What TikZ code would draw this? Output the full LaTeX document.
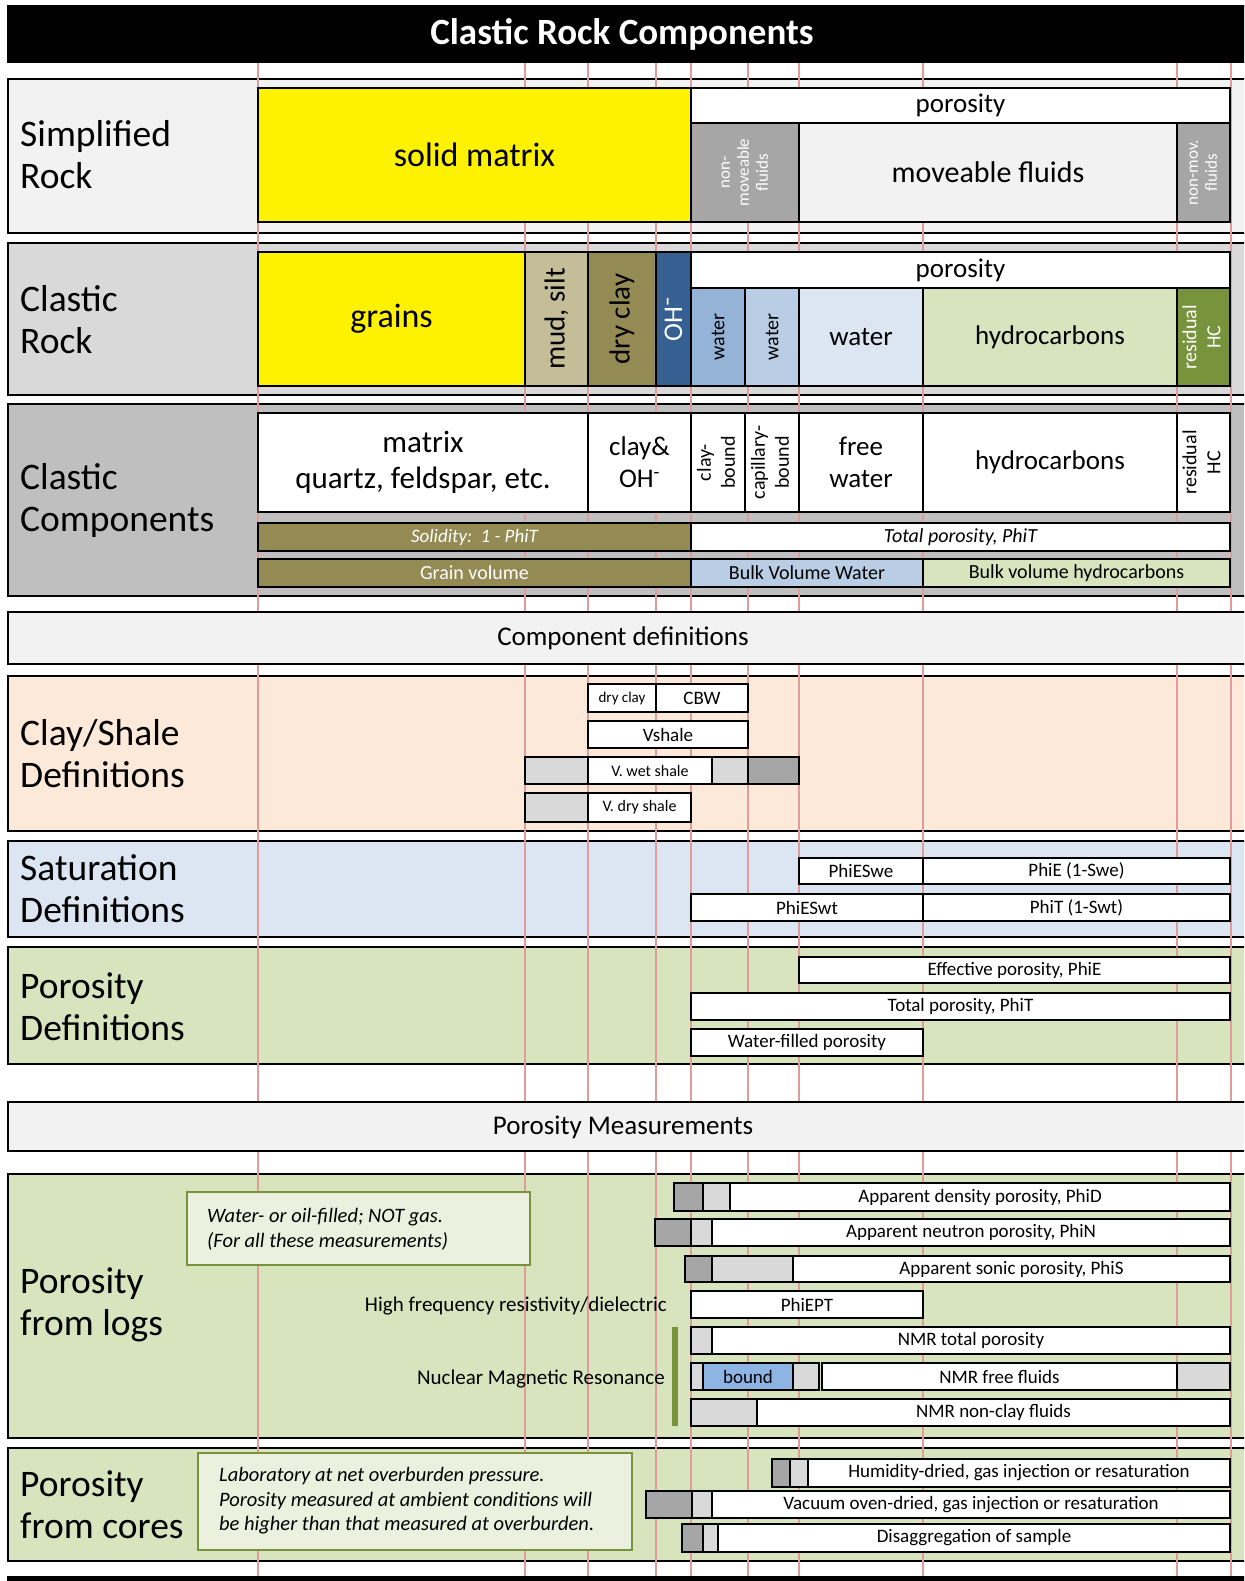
\documentclass[tikz,border=0pt]{standalone}
\usepackage{fontspec}
\setmainfont{Carlito}
\usepackage{tikz}

\definecolor{pale}{HTML}{F2F2F2}
\definecolor{midgray}{HTML}{D9D9D9}
\definecolor{compgray}{HTML}{BFBFBF}
\definecolor{darkgray}{HTML}{A6A6A6}
\definecolor{mudsilt}{HTML}{C4BD97}
\definecolor{dryclay}{HTML}{948A54}
\definecolor{ohblue}{HTML}{376092}
\definecolor{watera}{HTML}{95B3D7}
\definecolor{waterb}{HTML}{B9CDE5}
\definecolor{waterc}{HTML}{DCE6F2}
\definecolor{hcgreen}{HTML}{D7E4BD}
\definecolor{resgreen}{HTML}{77933C}
\definecolor{clayrose}{HTML}{FDE9D9}
\definecolor{notegreen}{HTML}{EBF1DE}
\definecolor{boundblue}{HTML}{8EB4E3}
\definecolor{gridred}{HTML}{DE9C9A}

\newcommand{\comp}[7]{\node[cellbox,#6,minimum width={(#4-#2)*1pt},minimum height={(#5-#3)*1pt}] (#1) at ({(#2+#4)/2},{(#3+#5)/2}) {#7};}
\newcommand{\rot}[1]{\rotatebox{90}{\begin{tabular}{@{}c@{}}#1\end{tabular}}}

\begin{document}
\begin{tikzpicture}[x=1pt,y=-1pt,
    cellbox/.style={draw,line width=2pt,inner sep=0pt,outer sep=0pt,align=center,font=\fontsize{27}{32}\selectfont},
    panel/.style={line width=2pt},
    lab/.style={anchor=west,align=left,inner sep=0pt,font=\fontsize{37.5}{42}\selectfont},
    head/.style={inner sep=0pt,font=\fontsize{27}{32}\selectfont},
    big/.style={font=\fontsize{34}{40}\selectfont},
    mid/.style={font=\fontsize{20}{24}\selectfont},
    sm/.style={font=\fontsize{19}{23}\selectfont},
    tiny/.style={font=\fontsize{17}{19}\selectfont},
    dk/.style={fill=darkgray},
    lt/.style={fill=midgray},
    wt/.style={fill=white,sm},
    note/.style={draw=resgreen,line width=2pt,fill=notegreen},
    notetext/.style={anchor=west,align=left,inner sep=0pt,font=\fontsize{20.5}{25}\selectfont\itshape}]

  \useasboundingbox (0,0) rectangle (1244,1581);
  \clip (0,0) rectangle (1244,1581);

  \comp{title}{8}{6}{1260}{62}{fill=black}{}
  \node[text=white,font=\fontsize{37}{42}\selectfont\bfseries] (titletext) at (622,34) {Clastic Rock Components};

  \comp{simp}{8}{79}{1260}{233}{panel,fill=pale}{}
  \comp{clrock}{8}{243}{1260}{395}{panel,fill=midgray}{}
  \comp{clcomp}{8}{404}{1260}{596}{panel,fill=compgray}{}
  \comp{claydef}{8}{676}{1260}{831}{panel,fill=clayrose}{}
  \comp{satdef}{8}{841}{1260}{937}{panel,fill=waterc}{}
  \comp{pordef}{8}{947}{1260}{1064}{panel,fill=hcgreen}{}
  \comp{logs}{8}{1174}{1260}{1438}{panel,fill=hcgreen}{}
  \comp{cores}{8}{1448}{1260}{1561}{panel,fill=hcgreen}{}
  \comp{bottom}{8}{1577}{1260}{1600}{fill=black}{}

  \foreach \x in {258,525,588,656,691,748,799,923,1177,1231}
    \draw[gridred,line width=2pt] (\x,63) -- (\x,1576);

  \comp{hdefs}{8}{612}{1260}{664}{panel,fill=pale}{}
  \node[head] (hdefstext) at (623,638) {Component definitions};
  \comp{hmeas}{8}{1102}{1260}{1151}{panel,fill=pale}{}
  \node[head] (hmeastext) at (623,1127) {Porosity Measurements};

  \node[lab] (simplab) at (20,155) {Simplified\\Rock};
  \node[lab] (clrocklab) at (20,320) {Clastic\\Rock};
  \node[lab] (clcomplab) at (20,500) {Clastic\\Components};
  \node[lab] (claylab) at (20,754) {Clay/Shale\\Definitions};
  \node[lab] (satlab) at (20,889) {Saturation\\Definitions};
  \node[lab] (porlab) at (20,1007) {Porosity\\Definitions};
  \node[lab] (logslab) at (20,1305) {Porosity\\from logs};
  \node[lab] (coreslab) at (20,1505) {Porosity\\from cores};

  \comp{solid}{258}{88}{691}{222}{fill=yellow,big}{solid matrix}
  \comp{poro}{691}{88}{1230}{123}{fill=white}{porosity}
  \comp{nonmov}{691}{123}{799}{222}{dk,tiny,text=white}{\rot{non-\\moveable\\fluids}}
  \comp{movfl}{799}{123}{1177}{222}{fill=pale,font=\fontsize{30}{36}\selectfont}{moveable fluids}
  \comp{nonmovb}{1177}{123}{1230}{222}{dk,tiny,text=white}{\rot{non-mov.\\fluids}}

  \comp{grains}{258}{252}{525}{386}{fill=yellow,big}{grains}
  \comp{mud}{525}{252}{588}{386}{fill=mudsilt,font=\fontsize{29}{34}\selectfont}{\rotatebox{90}{mud, silt}}
  \comp{dclay}{588}{252}{656}{386}{fill=dryclay,font=\fontsize{29}{34}\selectfont}{\rotatebox{90}{dry clay}}
  \comp{oh}{656}{252}{691}{386}{fill=ohblue,text=white}{\rotatebox{90}{OH\textsuperscript{\textbf{--}}}}
  \comp{porob}{691}{252}{1230}{288}{fill=white}{porosity}
  \comp{wa}{691}{288}{745}{386}{fill=watera,mid}{\rotatebox{90}{water}}
  \comp{wb}{745}{288}{799}{386}{fill=waterb,mid}{\rotatebox{90}{water}}
  \comp{wc}{799}{288}{923}{386}{fill=waterc}{water}
  \comp{hc}{923}{288}{1177}{386}{fill=hcgreen}{hydrocarbons}
  \comp{res}{1177}{288}{1230}{386}{fill=resgreen,text=white,mid}{\rot{residual\\HC}}

  \comp{matrix}{258}{413}{588}{512}{fill=white,font=\fontsize{31}{36}\selectfont}{matrix\\quartz, feldspar, etc.}
  \comp{clayoh}{588}{413}{691}{512}{fill=white}{clay\&\\OH\textsuperscript{-}}
  \comp{cbound}{691}{413}{745}{512}{fill=white,mid}{\rot{clay-\\bound}}
  \comp{capbound}{745}{413}{799}{512}{fill=white,mid}{\rot{capillary-\\bound}}
  \comp{free}{799}{413}{923}{512}{fill=white}{free\\water}
  \comp{hcc}{923}{413}{1177}{512}{fill=white}{hydrocarbons}
  \comp{resc}{1177}{413}{1230}{512}{fill=white,mid}{\rot{residual\\HC}}
  \comp{solidity}{258}{523}{691}{551}{fill=dryclay,text=white,sm}{\itshape Solidity:\ \ 1 - PhiT}
  \comp{totpor}{691}{523}{1230}{551}{fill=white,mid}{\itshape Total porosity, PhiT}
  \comp{grainvol}{258}{559}{691}{587}{fill=dryclay,text=white,mid}{Grain volume}
  \comp{bvw}{691}{559}{923}{587}{fill=waterb,mid}{Bulk Volume Water}
  \comp{bvhc}{923}{559}{1230}{587}{fill=hcgreen,mid}{Bulk volume hydrocarbons}

  \comp{dcl}{588}{684}{656}{712}{fill=white,font=\fontsize{15}{18}\selectfont}{dry clay}
  \comp{cbw}{656}{684}{748}{712}{wt}{CBW}
  \comp{vsh}{588}{721}{748}{748}{wt}{Vshale}
  \comp{wsa}{525}{757}{588}{784}{lt}{}
  \comp{wsb}{588}{757}{712}{784}{fill=white,font=\fontsize{16}{19}\selectfont}{V. wet shale}
  \comp{wsc}{712}{757}{748}{784}{lt}{}
  \comp{wsd}{748}{757}{799}{784}{dk}{}
  \comp{dsa}{525}{793}{588}{822}{lt}{}
  \comp{dsb}{588}{793}{691}{822}{fill=white,font=\fontsize{16}{19}\selectfont}{V. dry shale}

  \comp{phieswe}{799}{858}{923}{884}{wt}{PhiESwe}
  \comp{phieswef}{923}{858}{1230}{884}{wt}{PhiE (1-Swe)}
  \comp{phieswt}{691}{894}{923}{921}{wt}{PhiESwt}
  \comp{phitswt}{923}{894}{1230}{921}{wt}{PhiT (1-Swt)}

  \comp{effpor}{799}{957}{1230}{983}{wt}{Effective porosity, PhiE}
  \comp{totporb}{691}{993}{1230}{1020}{wt}{Total porosity, PhiT}
  \comp{wfpor}{691}{1029}{923}{1056}{wt}{Water-filled porosity}

  \comp{lognote}{187}{1192}{530}{1265}{note}{}
  \node[notetext] (lognotetext) at (207,1229) {Water- or oil-filled; NOT gas.\\(For all these measurements)};

  \comp{dena}{674}{1183}{703}{1211}{dk}{}
  \comp{denb}{703}{1183}{730}{1211}{lt}{}
  \comp{denc}{730}{1183}{1230}{1211}{wt}{Apparent density porosity, PhiD}
  \comp{neua}{655}{1219}{691}{1246}{dk}{}
  \comp{neub}{691}{1219}{712}{1246}{lt}{}
  \comp{neuc}{712}{1219}{1230}{1246}{wt}{Apparent neutron porosity, PhiN}
  \comp{sona}{685}{1256}{712}{1282}{dk}{}
  \comp{sonb}{712}{1256}{793}{1282}{lt}{}
  \comp{sonc}{793}{1256}{1230}{1282}{wt}{Apparent sonic porosity, PhiS}
  \comp{ept}{691}{1291}{923}{1318}{wt}{PhiEPT}
  \comp{nmta}{691}{1327}{712}{1354}{lt}{}
  \comp{nmtb}{712}{1327}{1230}{1354}{wt}{NMR total porosity}
  \comp{nmfa}{691}{1363}{703}{1390}{lt}{}
  \comp{nmfb}{703}{1363}{793}{1390}{fill=boundblue,sm}{bound}
  \comp{nmfc}{793}{1363}{819}{1390}{lt}{}
  \comp{nmfd}{822}{1363}{1177}{1390}{wt}{NMR free fluids}
  \comp{nmfe}{1177}{1363}{1230}{1390}{lt}{}
  \comp{nmca}{691}{1399}{757}{1426}{lt}{}
  \comp{nmcb}{757}{1399}{1230}{1426}{wt}{NMR non-clay fluids}

  \node[anchor=east,inner sep=0pt,font=\fontsize{21}{25}\selectfont] (hfreq) at (667,1306) {High frequency resistivity/dielectric};
  \node[anchor=east,inner sep=0pt,font=\fontsize{21}{25}\selectfont] (nmr) at (665,1379) {Nuclear Magnetic Resonance};
  \comp{nmrbar}{672}{1327}{678}{1426}{draw=none,fill=resgreen}{}

  \comp{corenote}{198}{1453}{632}{1550}{note}{}
  \node[notetext,font=\fontsize{20.5}{24.5}\selectfont\itshape] (corenotetext) at (219,1501) {Laboratory at net overburden pressure.\\Porosity measured at ambient conditions will\\be higher than that measured at overburden.};

  \comp{huma}{772}{1459}{790}{1487}{dk}{}
  \comp{humb}{790}{1459}{808}{1487}{lt}{}
  \comp{humc}{808}{1459}{1230}{1487}{wt}{Humidity-dried, gas injection or resaturation}
  \comp{vaca}{646}{1491}{692}{1518}{dk}{}
  \comp{vacb}{692}{1491}{712}{1518}{lt}{}
  \comp{vacc}{712}{1491}{1230}{1518}{wt}{Vacuum oven-dried, gas injection or resaturation}
  \comp{disa}{682}{1524}{703}{1552}{dk}{}
  \comp{disb}{703}{1524}{718}{1552}{lt}{}
  \comp{disc}{718}{1524}{1230}{1552}{wt}{Disaggregation of sample}
\end{tikzpicture}
\end{document}
